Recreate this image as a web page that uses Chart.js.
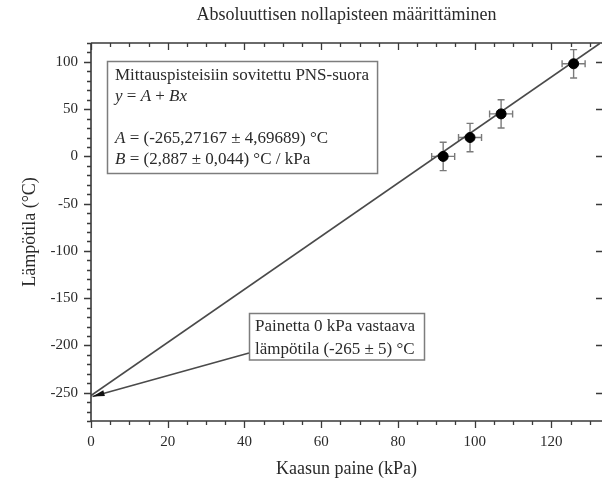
<!DOCTYPE html>
<html><head><meta charset="utf-8">
<script src="https://cdn.jsdelivr.net/npm/chart.js@4.4.0/dist/chart.umd.min.js"></script>
<style>html,body{margin:0;padding:0;background:#fff;overflow:hidden}#wrap{width:602px;height:483px}canvas{display:block}</style>
</head><body><div id="wrap"><canvas id="c" width="602" height="483"></canvas></div>
<script>
// ---- data ----
const pressure = [91.8, 98.8, 106.9, 125.8];
const temperature = [0, 20, 45, 98];
const pressureErr = [3, 3, 3, 3];
const temperatureErr = [15, 15, 15, 15];
const fitX = [0, 132.6];
const fitY = [-253, 119.5];
const arrowX = [41.2, 0.4];
const arrowY = [-208, -254];
const xTicks = [0, 20, 40, 60, 80, 100, 120];
const yTicks = [-250, -200, -150, -100, -50, 0, 50, 100];
const chartTitle = 'Absoluuttisen nollapisteen määrittäminen';
const xTitle = 'Kaasun paine (kPa)';
const yTitle = 'Lämpötila (°C)';
// each line: list of [text, italic]
const fitBoxLines = [
  [['Mittauspisteisiin sovitettu PNS-suora', false]],
  [['y', true], [' = ', false], ['A', true], [' + ', false], ['Bx', true]],
  [],
  [['A', true], [' = (-265,27167 ± 4,69689) °C', false]],
  [['B', true], [' = (2,887 ± 0,044) °C / kPa', false]]
];
const zeroBoxLines = ['Painetta 0 kPa vastaava', 'lämpötila (-265 ± 5) °C'];

const SERIF = '"Liberation Serif", "Times New Roman", serif';

const errorBars = {
  id: 'errorBars',
  beforeDatasetsDraw(chart) {
    const {ctx, scales: {x, y}} = chart;
    ctx.save();
    ctx.strokeStyle = '#7a7a7a';
    ctx.lineWidth = 1.4;
    const cap = 3.5;
    pressure.forEach((p, i) => {
      const t = temperature[i];
      const px = x.getPixelForValue(p), py = y.getPixelForValue(t);
      const x0 = x.getPixelForValue(p - pressureErr[i]), x1 = x.getPixelForValue(p + pressureErr[i]);
      const y0 = y.getPixelForValue(t - temperatureErr[i]), y1 = y.getPixelForValue(t + temperatureErr[i]);
      ctx.beginPath();
      ctx.moveTo(x0, py); ctx.lineTo(x1, py);
      ctx.moveTo(x0, py - cap); ctx.lineTo(x0, py + cap);
      ctx.moveTo(x1, py - cap); ctx.lineTo(x1, py + cap);
      ctx.moveTo(px, y0); ctx.lineTo(px, y1);
      ctx.moveTo(px - cap, y0); ctx.lineTo(px + cap, y0);
      ctx.moveTo(px - cap, y1); ctx.lineTo(px + cap, y1);
      ctx.stroke();
    });
    ctx.restore();
  }
};

const frameTicks = {
  id: 'frameTicks',
  afterDraw(chart) {
    const {ctx, chartArea: a, scales: {x, y}} = chart;
    ctx.save();
    ctx.strokeStyle = '#3a3a3a';
    ctx.lineWidth = 1.6;
    ctx.beginPath();
    ctx.moveTo(a.left, a.top); ctx.lineTo(a.right, a.top);
    ctx.moveTo(a.left, a.top); ctx.lineTo(a.left, a.bottom); ctx.lineTo(a.right, a.bottom);
    ctx.stroke();
    ctx.lineWidth = 1.3;
    ctx.beginPath();
    for (let v = 0; v <= x.max + 1e-6; v += 5) {
      const px = Math.round(x.getPixelForValue(v)) + 0.5;
      const len = xTicks.includes(v) ? 7 : 4;
      ctx.moveTo(px, a.bottom); ctx.lineTo(px, a.bottom + len);
      ctx.moveTo(px, a.top); ctx.lineTo(px, a.top + len);
    }
    for (let v = y.min; v <= y.max + 1e-6; v += 10) {
      const py = Math.round(y.getPixelForValue(v)) + 0.5;
      const major = yTicks.includes(v);
      const len = major ? 7 : 4;
      ctx.moveTo(a.left - len, py); ctx.lineTo(a.left, py);
      if (major) { ctx.moveTo(a.right - 6, py); ctx.lineTo(a.right, py); }
    }
    ctx.stroke();
    ctx.restore();
  }
};

function drawRich(ctx, parts, x, y) {
  let cx = x;
  parts.forEach(([txt, it]) => {
    ctx.font = (it ? 'italic ' : '') + '17px ' + SERIF;
    ctx.fillText(txt, cx, y);
    cx += ctx.measureText(txt).width;
  });
  return cx - x;
}

const annotations = {
  id: 'annotations',
  afterDatasetsDraw(chart) {
    const {ctx} = chart;
    const meta = chart.getDatasetMeta(2);
    ctx.save();
    // arrow head
    const p0 = meta.data[0], p1 = meta.data[1];
    const ang = Math.atan2(p1.y - p0.y, p1.x - p0.x);
    const L = 12, W = 3;
    ctx.fillStyle = '#111';
    ctx.beginPath();
    ctx.moveTo(p1.x, p1.y);
    ctx.lineTo(p1.x - L * Math.cos(ang) + W * Math.sin(ang), p1.y - L * Math.sin(ang) - W * Math.cos(ang));
    ctx.lineTo(p1.x - L * Math.cos(ang) - W * Math.sin(ang), p1.y - L * Math.sin(ang) + W * Math.cos(ang));
    ctx.closePath();
    ctx.fill();

    // fit box
    ctx.textBaseline = 'middle';
    let maxW = 0;
    fitBoxLines.forEach(parts => {
      let w = 0;
      parts.forEach(([txt, it]) => { ctx.font = (it ? 'italic ' : '') + '17px ' + SERIF; w += ctx.measureText(txt).width; });
      maxW = Math.max(maxW, w);
    });
    const bx = 107.5, by = 61.5, bw = maxW + 16, bh = 112;
    ctx.fillStyle = '#fff';
    ctx.fillRect(bx, by, bw, bh);
    ctx.strokeStyle = '#7d7d7d';
    ctx.lineWidth = 1.5;
    ctx.strokeRect(bx, by, bw, bh);
    ctx.fillStyle = '#2a2a2a';
    const rows = [75.5, 96.5, 117.5, 139, 160];
    fitBoxLines.forEach((parts, i) => drawRich(ctx, parts, 115, rows[i]));

    // zero box
    const zx = 249.5, zy = 313.5, zw = 175, zh = 46.5;
    ctx.fillStyle = '#fff';
    ctx.fillRect(zx, zy, zw, zh);
    ctx.strokeRect(zx, zy, zw, zh);
    ctx.fillStyle = '#2a2a2a';
    ctx.font = '17px ' + SERIF;
    ctx.fillText(zeroBoxLines[0], 255, 327);
    ctx.fillText(zeroBoxLines[1], 255, 349.5);
    ctx.restore();
  }
};

new Chart(document.getElementById('c'), {
  type: 'scatter',
  data: {
    datasets: [
      {
        label: 'Mittauspisteet',
        data: pressure.map((p, i) => ({x: p, y: temperature[i]})),
        backgroundColor: '#000', borderColor: '#000',
        pointRadius: 5, pointHoverRadius: 5, showLine: false
      },
      {
        label: 'PNS-suora',
        type: 'line',
        data: fitX.map((v, i) => ({x: v, y: fitY[i]})),
        borderColor: '#4a4a4a', borderWidth: 1.6, pointRadius: 0, fill: false
      },
      {
        label: 'Nuoli',
        type: 'line',
        data: arrowX.map((v, i) => ({x: v, y: arrowY[i]})),
        borderColor: '#4a4a4a', borderWidth: 1.6, pointRadius: 0, fill: false
      }
    ]
  },
  options: {
    responsive: false,
    devicePixelRatio: 1,
    animation: false,
    layout: {autoPadding: false, padding: {left: 0, right: 0, top: 0, bottom: 0}},
    plugins: {
      legend: {display: false},
      tooltip: {enabled: false},
      title: {
        display: true, text: chartTitle, fullSize: false,
        color: '#2a2a2a',
        font: {family: SERIF, size: 18, weight: 'normal'},
        padding: {top: 4, bottom: 17.4}
      }
    },
    scales: {
      x: {
        type: 'linear', position: 'bottom', min: 0, max: 133.2,
        grid: {display: false, drawTicks: false},
        border: {display: false},
        ticks: {stepSize: 20, padding: 12, maxRotation: 0, color: '#2a2a2a', font: {family: SERIF, size: 15}},
        afterBuildTicks: s => { s.ticks = xTicks.map(v => ({value: v})); },
        afterFit: s => { s.height = 62; },
        title: {display: true, text: xTitle, color: '#2a2a2a', font: {family: SERIF, size: 18}, padding: {top: 0, bottom: 3}}
      },
      y: {
        type: 'linear', position: 'left', min: -280, max: 120,
        grid: {display: false, drawTicks: false},
        border: {display: false},
        ticks: {stepSize: 50, padding: 13, color: '#2a2a2a', font: {family: SERIF, size: 15}},
        afterBuildTicks: s => { s.ticks = yTicks.map(v => ({value: v})); },
        afterFit: s => { s.width = 91; },
        title: {display: true, text: yTitle, color: '#2a2a2a', font: {family: SERIF, size: 18}, padding: {top: 19, bottom: 0}}
      }
    }
  },
  plugins: [errorBars, annotations, frameTicks]
});
</script>
</body></html>
